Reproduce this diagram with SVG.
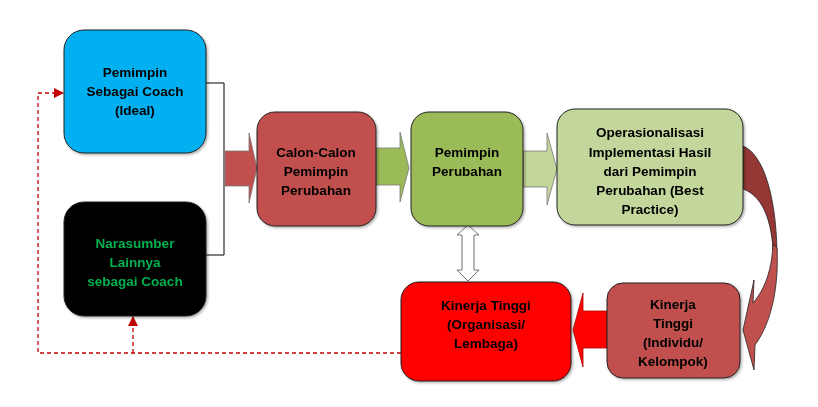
<svg xmlns="http://www.w3.org/2000/svg" width="818" height="407" viewBox="0 0 818 407">
<defs>
<marker id="ah" viewBox="0 0 10 10" refX="9" refY="5" markerWidth="10" markerHeight="10" markerUnits="userSpaceOnUse" orient="auto"><path d="M0,0 L10,5 L0,10 Z" fill="#C00000"/></marker>
<filter id="sh" x="-10%" y="-10%" width="130%" height="130%"><feDropShadow dx="1.5" dy="1.5" stdDeviation="1" flood-color="#000" flood-opacity="0.3"/></filter>
</defs>
<style>
.box{stroke:#222;stroke-width:1}
.t{font-family:"Liberation Sans",Arial,sans-serif;font-weight:bold;font-size:13.5px;text-anchor:middle;fill:#000}
.g{fill:#00B050}
.blk{stroke:#7a7a7a;stroke-width:0.8}
.dash{fill:none;stroke:#C00000;stroke-width:1.3;stroke-dasharray:4 3}
</style>
<rect width="818" height="407" fill="#fff"/>
<g id="connectors">
<path d="M206,83 H224 V255 H206" fill="none" stroke="#000" stroke-width="1"/>
<polygon class="blk" points="225,151 249,151 249,133 257,168 249,203 249,186 225,186" fill="#C0504D" stroke="#8c3836"/>
<polygon class="blk" points="376,148 400,148 400,132 409,168 400,202 400,185 376,185" fill="#9BBB59"/>
<polygon class="blk" points="523,151 547,151 547,133 557,169 547,205 547,187 523,187" fill="#C3D69B"/>
<path d="M743,146 C763,154 776,195 777,252 L773,250 C771,215 760,195 743,189 Z" fill="#953735" stroke="#222" stroke-width="0.8"/>
<path d="M773,244 L777,248 C779,285 772,322 755,345 L754,370 L743,330 L754,280 L753,303 C766,288 772,268 773,244 Z" fill="#C0504D" stroke="#222" stroke-width="0.8"/>
<polygon points="607,311 583,311 583,293 573,330 583,367 583,348 607,348" fill="#FF0000" stroke="#b00000" stroke-width="0.8"/>
<polygon points="468,225 479,235 474,235 474,270 479,270 468,281 457,270 462,270 462,235 457,235" fill="#fff" stroke="#707070" stroke-width="1"/>
<path class="dash" d="M401,353 H38 V93 H63" marker-end="url(#ah)"/>
<path class="dash" d="M133,353 V317" marker-end="url(#ah)"/>
</g>
<g id="n1" filter="url(#sh)">
<rect class="box" x="64" y="30" width="142" height="123" rx="20" fill="#00B0F0"/>
<text class="t" x="135" y="77">Pemimpin</text>
<text class="t" x="135" y="96">Sebagai Coach</text>
<text class="t" x="135" y="115">(Ideal)</text>
</g>
<g id="n2" filter="url(#sh)">
<rect class="box" x="64" y="202" width="142" height="114" rx="20" fill="#000"/>
<text class="t g" x="135" y="248">Narasumber</text>
<text class="t g" x="135" y="267">Lainnya</text>
<text class="t g" x="135" y="286">sebagai Coach</text>
</g>
<g id="n3" filter="url(#sh)">
<rect class="box" x="257" y="112" width="119" height="114" rx="18" fill="#C0504D"/>
<text class="t" x="316" y="157">Calon-Calon</text>
<text class="t" x="316" y="176">Pemimpin</text>
<text class="t" x="316" y="195">Perubahan</text>
</g>
<g id="n4" filter="url(#sh)">
<rect class="box" x="411" y="112" width="112" height="114" rx="18" fill="#9BBB59"/>
<text class="t" x="467" y="157">Pemimpin</text>
<text class="t" x="467" y="176">Perubahan</text>
</g>
<g id="n5" filter="url(#sh)">
<rect class="box" x="557" y="109" width="186" height="116" rx="18" fill="#C3D69B"/>
<text class="t" x="650" y="137">Operasionalisasi</text>
<text class="t" x="650" y="157">Implementasi Hasil</text>
<text class="t" x="650" y="176">dari Pemimpin</text>
<text class="t" x="650" y="195">Perubahan (Best</text>
<text class="t" x="650" y="214">Practice)</text>
</g>
<g id="n6" filter="url(#sh)">
<rect class="box" x="607" y="283" width="133" height="95" rx="16" fill="#C0504D"/>
<text class="t" x="673" y="309">Kinerja</text>
<text class="t" x="673" y="328">Tinggi</text>
<text class="t" x="673" y="347">(Individu/</text>
<text class="t" x="673" y="366">Kelompok)</text>
</g>
<g id="n7" filter="url(#sh)">
<rect class="box" x="401" y="282" width="170" height="99" rx="18" fill="#FF0000"/>
<text class="t" x="486" y="310">Kinerja Tinggi</text>
<text class="t" x="486" y="329">(Organisasi/</text>
<text class="t" x="486" y="348">Lembaga)</text>
</g>
</svg>
